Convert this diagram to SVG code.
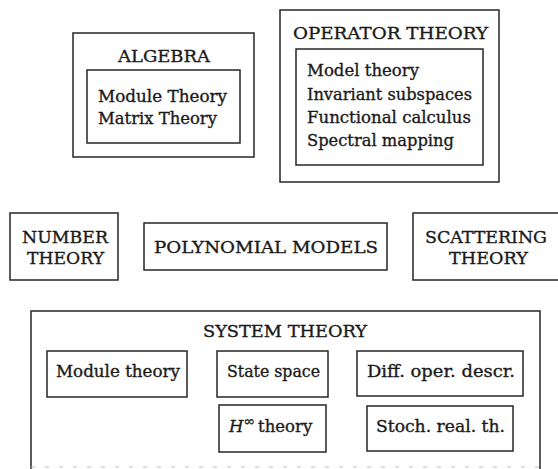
<svg xmlns="http://www.w3.org/2000/svg" width="558" height="469" viewBox="0 0 558 469">
<style>
.box{fill:none;stroke:#262626;stroke-width:1.5}
.t,.h{font-family:"DejaVu Serif","Liberation Serif",serif;fill:#1a1a1a;stroke:#1a1a1a;stroke-width:0.35}
.t{font-size:16.5px}
.h{font-size:17px}
</style>
<rect width="558" height="469" fill="#fff"/>
<g id="algebra">
<rect class="box" x="73" y="33" width="181" height="124"/>
<text class="h" x="118" y="62" textLength="92" lengthAdjust="spacingAndGlyphs">ALGEBRA</text>
<rect class="box" x="87" y="70" width="153" height="73"/>
<text class="t" x="98" y="102" textLength="129" lengthAdjust="spacingAndGlyphs">Module Theory</text>
<text class="t" x="98" y="124" textLength="119" lengthAdjust="spacingAndGlyphs">Matrix Theory</text>
</g>
<g id="operator-theory">
<rect class="box" x="280" y="10" width="219" height="172"/>
<text class="h" x="293" y="39" textLength="195" lengthAdjust="spacingAndGlyphs">OPERATOR THEORY</text>
<rect class="box" x="296" y="49" width="187" height="116"/>
<text class="t" x="307" y="76" textLength="112" lengthAdjust="spacingAndGlyphs">Model theory</text>
<text class="t" x="307" y="100" textLength="165" lengthAdjust="spacingAndGlyphs">Invariant subspaces</text>
<text class="t" x="307" y="123" textLength="164" lengthAdjust="spacingAndGlyphs">Functional calculus</text>
<text class="t" x="307" y="146" textLength="147" lengthAdjust="spacingAndGlyphs">Spectral mapping</text>
</g>
<g id="number-theory">
<rect class="box" x="10" y="213" width="108" height="67"/>
<text class="h" x="22" y="243" textLength="86" lengthAdjust="spacingAndGlyphs">NUMBER</text>
<text class="h" x="27" y="264" textLength="77" lengthAdjust="spacingAndGlyphs">THEORY</text>
</g>
<g id="polynomial-models">
<rect class="box" x="144" y="223" width="243" height="47"/>
<text class="h" x="154" y="253" textLength="224" lengthAdjust="spacingAndGlyphs">POLYNOMIAL MODELS</text>
</g>
<g id="scattering-theory">
<rect class="box" x="413" y="213" width="160" height="67"/>
<text class="h" x="425" y="243" textLength="122" lengthAdjust="spacingAndGlyphs">SCATTERING</text>
<text class="h" x="449" y="264" textLength="79" lengthAdjust="spacingAndGlyphs">THEORY</text>
</g>
<g id="system-theory">
<path class="box" d="M31,469 V311 H540 V469"/>
<path d="M31,467 H540" fill="none" stroke="#bbb" stroke-width="1.2" stroke-dasharray="4 10"/>
<text class="h" x="203" y="337" textLength="164" lengthAdjust="spacingAndGlyphs">SYSTEM THEORY</text>
</g>
<g id="module-theory">
<rect class="box" x="47" y="351" width="140" height="46"/>
<text class="t" x="56" y="377" textLength="124" lengthAdjust="spacingAndGlyphs">Module theory</text>
</g>
<g id="state-space">
<rect class="box" x="217" y="351" width="111" height="46"/>
<text class="t" x="227" y="377" textLength="93" lengthAdjust="spacingAndGlyphs">State space</text>
</g>
<g id="diff-oper-descr">
<rect class="box" x="357" y="351" width="166" height="45"/>
<text class="t" x="367" y="377" textLength="148" lengthAdjust="spacingAndGlyphs">Diff. oper. descr.</text>
</g>
<g id="h-infinity-theory">
<rect class="box" x="219" y="405" width="107" height="47"/>
<text class="t" x="229" y="432"><tspan font-style="italic">H</tspan><tspan font-size="14" dy="-6">∞</tspan><tspan dy="6" dx="3">theory</tspan></text>
</g>
<g id="stoch-real-th">
<rect class="box" x="367" y="406" width="146" height="45"/>
<text class="t" x="376" y="432" textLength="129" lengthAdjust="spacingAndGlyphs">Stoch. real. th.</text>
</g>
<g id="connectors"/>
</svg>
